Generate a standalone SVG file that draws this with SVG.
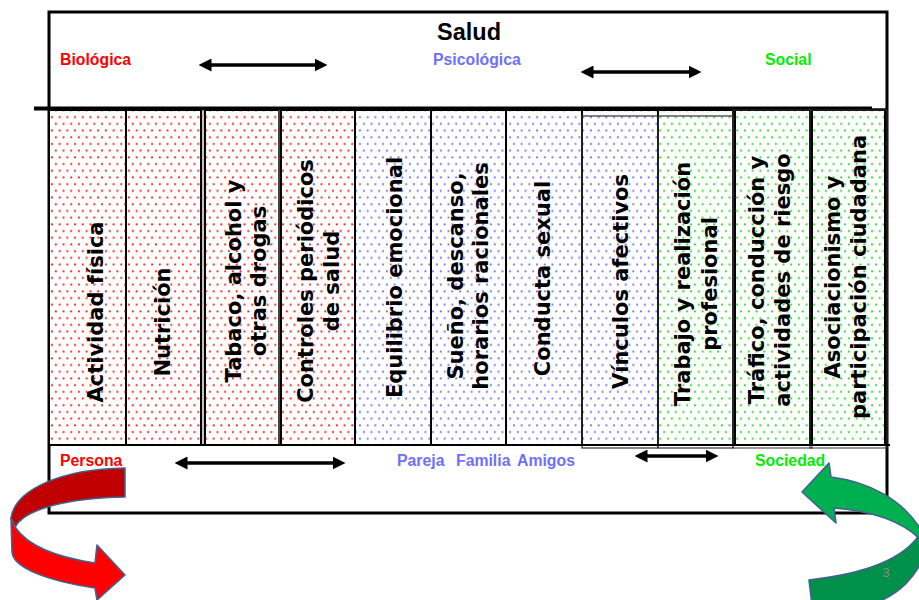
<svg xmlns="http://www.w3.org/2000/svg" width="919" height="600" viewBox="0 0 919 600">
<style>
.col{font-family:"DejaVu Sans",sans-serif;font-weight:bold;font-size:21px;fill:#000;text-anchor:middle}
.hd{font-family:"Liberation Sans",Arial,sans-serif;font-weight:bold;font-size:15.8px}
.box{fill:none;stroke:#000;stroke-width:3}
.cell{stroke:#000;stroke-width:2}
.arr{stroke:#000;stroke-width:3.5;fill:none;marker-start:url(#ah);marker-end:url(#ah)}
.rib{stroke:#41648f;stroke-width:1.6;stroke-linejoin:round}
</style>
<defs>
<pattern id="pr" width="7.7" height="13.4" patternUnits="userSpaceOnUse"><rect width="7.7" height="13.4" fill="#fff"/><circle cx="1.9" cy="3.3" r="1.05" fill="#ff1a1a"/><circle cx="5.75" cy="10" r="1.05" fill="#ff1a1a"/></pattern>
<pattern id="pb" width="7.7" height="13.4" patternUnits="userSpaceOnUse"><rect width="7.7" height="13.4" fill="#fff"/><circle cx="1.9" cy="3.3" r="1.05" fill="#7070ff"/><circle cx="5.75" cy="10" r="1.05" fill="#7070ff"/></pattern>
<pattern id="pg" width="7.7" height="13.4" patternUnits="userSpaceOnUse"><rect width="7.7" height="13.4" fill="#fff"/><circle cx="1.9" cy="3.3" r="1.05" fill="#22e022"/><circle cx="5.75" cy="10" r="1.05" fill="#22e022"/></pattern>
<marker id="ah" viewBox="0 0 12 12" refX="6" refY="6" markerWidth="13" markerHeight="13" orient="auto-start-reverse" markerUnits="userSpaceOnUse"><path d="M0,0 L12,6 L0,12 Z" fill="#000"/></marker>
</defs>
<rect width="919" height="600" fill="#fff"/>

<g id="frame">
<path class="box" d="M49,12 H887 V513 H49 Z"/>
<line x1="34" y1="108.5" x2="872" y2="108.5" stroke="#000" stroke-width="4"/>
<line x1="872" y1="109" x2="887" y2="109" stroke="#000" stroke-width="1.5"/>
</g>

<g id="c1"><rect class="cell" x="49" y="110" width="77" height="335" fill="url(#pr)"/><text class="col" transform="translate(103,312) rotate(-90)">Actividad física</text></g>
<g id="c2"><rect class="cell" x="126" y="110" width="75" height="335" fill="url(#pr)"/><text class="col" transform="translate(170,322) rotate(-90)">Nutrición</text></g>
<g id="c3"><rect class="cell" x="205" y="110" width="74" height="335" fill="url(#pr)"/><line x1="203" y1="110" x2="203" y2="445" stroke="#888" stroke-width="1"/><text class="col" transform="translate(241,281) rotate(-90)"><tspan x="0" y="0">Tabaco, alcohol y</tspan><tspan x="0" y="25">otras drogas</tspan></text></g>
<g id="c4"><rect class="cell" x="281" y="110" width="74" height="335" fill="url(#pr)"/><line x1="279" y1="110" x2="279" y2="445" stroke="#444" stroke-width="2"/><text class="col" transform="translate(313,281) rotate(-90)"><tspan x="0" y="0">Controles periódicos</tspan><tspan x="0" y="26">de salud</tspan></text></g>
<g id="c5"><rect class="cell" x="355" y="110" width="76" height="335" fill="url(#pb)"/><text class="col" transform="translate(402,277.5) rotate(-90)">Equilibrio emocional</text></g>
<g id="c6"><rect class="cell" x="431" y="110" width="75" height="335" fill="url(#pb)"/><text class="col" transform="translate(463,276) rotate(-90)"><tspan x="0" y="0">Sueño, descanso,</tspan><tspan x="0" y="25">horarios racionales</tspan></text></g>
<g id="c7"><rect class="cell" x="506" y="110" width="76" height="335" fill="url(#pb)"/><text class="col" transform="translate(550,278.5) rotate(-90)">Conducta sexual</text></g>
<g id="c8"><rect class="cell" x="582" y="110" width="76" height="335" fill="url(#pb)"/><rect x="582" y="116" width="76" height="332" fill="none" stroke="#333" stroke-width="1.2"/><text class="col" transform="translate(628,281.5) rotate(-90)">Vínculos afectivos</text></g>
<g id="c9"><rect class="cell" x="658" y="110" width="75" height="335" fill="url(#pg)"/><rect x="658" y="116" width="75" height="332" fill="none" stroke="#333" stroke-width="1.2"/><text class="col" transform="translate(690,284) rotate(-90)"><tspan x="0" y="0">Trabajo y realización</tspan><tspan x="0" y="27">profesional</tspan></text></g>
<g id="c10"><rect class="cell" x="735" y="110" width="75" height="335" fill="url(#pg)"/><rect x="733" y="110" width="79" height="338" fill="none" stroke="#333" stroke-width="1"/><text class="col" transform="translate(764,280) rotate(-90)"><tspan x="0" y="0">Tráfico, conducción y</tspan><tspan x="0" y="26">actividades de riesgo</tspan></text></g>
<g id="c11"><rect class="cell" x="812" y="110" width="73" height="335" fill="url(#pg)"/><rect x="810" y="110" width="77" height="338" fill="none" stroke="#333" stroke-width="1"/><text class="col" transform="translate(840,277) rotate(-90)"><tspan x="0" y="0">Asociacionismo y</tspan><tspan x="0" y="26">participación ciudadana</tspan></text></g>
<line x1="49" y1="445" x2="890" y2="445" stroke="#000" stroke-width="2"/>

<g id="labels">
<text x="469" y="40" font-family="Liberation Sans, Arial, sans-serif" font-weight="bold" font-size="23.5" text-anchor="middle">Salud</text>
<text class="hd" x="60" y="65" fill="#ff0000">Biológica</text>
<text class="hd" x="433" y="65" fill="#6f6fff">Psicológica</text>
<text class="hd" x="765" y="65" fill="#00ee00">Social</text>
<text class="hd" x="60" y="466" fill="#ff0000">Persona</text>
<text class="hd" y="466" fill="#6f6fff"><tspan x="397">Pareja</tspan><tspan x="456">Familia</tspan><tspan x="517">Amigos</tspan></text>
<text class="hd" x="755" y="466" fill="#00ee00">Sociedad</text>
</g>

<g id="connectors">
<line class="arr" x1="205" y1="65" x2="321" y2="65"/>
<line class="arr" x1="587" y1="72" x2="695" y2="72"/>
<line class="arr" x1="181" y1="463" x2="339" y2="463"/>
<line class="arr" x1="641" y1="456" x2="712" y2="456"/>
</g>

<g id="red-arrow">
<path class="rib" fill="#c00000" d="M125,468 L125,497 C70,498 26,508 15,527 L11,518 C15,490 60,469 125,468 Z"/>
<path class="rib" fill="#ff0000" d="M11,518 L15,527 C27,545 55,557 95,563 L97,545 L125,575 L97,600 L95,588 C48,581 13,568 12,552 Z"/>
</g>

<g id="green-arrow">
<path class="rib" fill="#00904a" d="M921,532 C905,560 862,574 809,580 L812,605 L870,605 C900,595 918,575 925,552 Z"/>
<path class="rib" fill="#00b050" d="M831,477 L829,463 L802,492 L836,523 L834,508 C872,511 903,522 921,540 L921,530 C903,500 870,482 831,477 Z"/>
</g>
<text x="886" y="577" font-family="Liberation Sans, Arial, sans-serif" font-size="13" fill="#8a8a8a" text-anchor="middle">3</text>
</svg>
